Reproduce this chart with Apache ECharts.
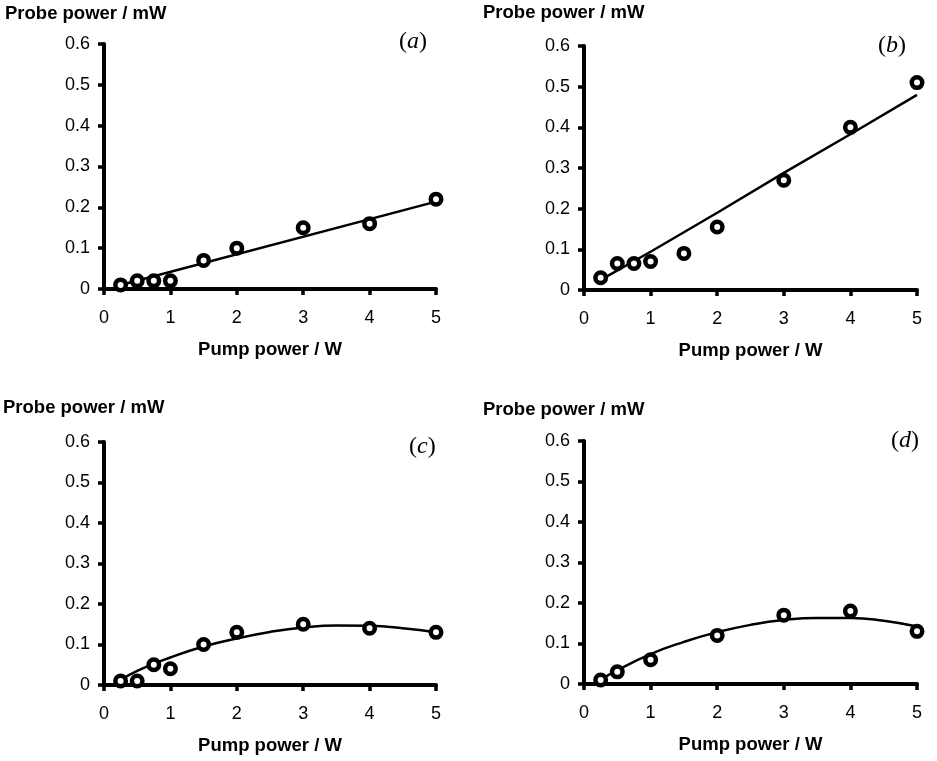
<!DOCTYPE html>
<html>
<head>
<meta charset="utf-8">
<script src="https://cdn.jsdelivr.net/npm/echarts@6/dist/echarts.min.js"></script>
<style>
  html, body { margin: 0; padding: 0; background: #fff; }
  #chart { width: 937px; height: 761px; }
</style>
</head>
<body>
<div id="chart"></div>
<script>
// measured pump powers (W) and probe powers (mW)
const pumpA = [0.25, 0.5, 0.75, 1, 1.5, 2, 3, 4, 5];
const probeA = [0.01, 0.02, 0.02, 0.02, 0.07, 0.10, 0.15, 0.16, 0.22];
const fitXA = [0.25, 5];
const fitYA = [0.01, 0.214];

const pumpB = [0.25, 0.5, 0.75, 1, 1.5, 2, 3, 4, 5];
const probeB = [0.03, 0.065, 0.065, 0.07, 0.09, 0.155, 0.27, 0.40, 0.51];
const fitXB = [0.25, 1, 2, 3, 4, 5];
const fitYB = [0.025, 0.094, 0.19, 0.288, 0.383, 0.48];

const pumpC = [0.25, 0.5, 0.75, 1, 1.5, 2, 3, 4, 5];
const probeC = [0.01, 0.01, 0.05, 0.04, 0.10, 0.13, 0.15, 0.14, 0.13];
const fitXC = [0.25, 0.5, 1, 1.5, 2, 2.5, 3, 3.5, 4, 4.5, 5];
const fitYC = [0.012, 0.035, 0.068, 0.095, 0.115, 0.131, 0.142, 0.147, 0.146, 0.14, 0.13];

const pumpD = [0.25, 0.5, 1, 2, 3, 4, 5];
const probeD = [0.01, 0.03, 0.06, 0.12, 0.17, 0.18, 0.13];
const fitXD = [0.25, 0.5, 1, 1.5, 2, 2.5, 3, 3.5, 4, 4.5, 5];
const fitYD = [0.01, 0.034, 0.074, 0.104, 0.128, 0.146, 0.158, 0.163, 0.163, 0.156, 0.142];

const xTicks = [0, 1, 2, 3, 4, 5];
const yTicks = [0, 0.1, 0.2, 0.3, 0.4, 0.5, 0.6];
const panelLetters = ['a', 'b', 'c', 'd'];

const panels = [
  { px: pumpA, py: probeA, fx: fitXA, fy: fitYA },
  { px: pumpB, py: probeB, fx: fitXB, fy: fitYB },
  { px: pumpC, py: probeC, fx: fitXC, fy: fitYC },
  { px: pumpD, py: probeD, fx: fitXD, fy: fitYD }
];

// grid boxes in pixels
const grids = [
  { left: 104, top: 44, width: 332, height: 245 },
  { left: 584, top: 46, width: 333, height: 244 },
  { left: 104, top: 442, width: 332, height: 243 },
  { left: 584, top: 441, width: 333, height: 243 }
];

const sans = 'Liberation Sans, Arial, sans-serif';
const serif = 'Liberation Serif, Times New Roman, serif';

function zip(xs, ys) {
  return xs.map((x, i) => [x, ys[i]]);
}

const xAxes = grids.map((g, i) => ({
  type: 'value',
  gridIndex: i,
  min: xTicks[0],
  max: xTicks[xTicks.length - 1],
  interval: 1,
  splitLine: { show: false },
  axisLine: { show: true, onZero: false, lineStyle: { color: '#000', width: 4 } },
  axisTick: { show: true, length: 6, lineStyle: { color: '#000', width: 3.5 } },
  axisLabel: { color: '#000', fontFamily: sans, fontSize: 18, margin: 20 },
  name: 'Pump power / W',
  nameLocation: 'middle',
  nameGap: 51,
  nameTextStyle: { color: '#000', fontFamily: sans, fontSize: 18.5, fontWeight: 'bold' }
}));

const yAxes = grids.map((g, i) => ({
  type: 'value',
  gridIndex: i,
  min: yTicks[0],
  max: yTicks[yTicks.length - 1],
  interval: 0.1,
  splitLine: { show: false },
  axisLine: { show: true, onZero: false, lineStyle: { color: '#000', width: 4 } },
  axisTick: { show: true, length: 6, lineStyle: { color: '#000', width: 3.5 } },
  axisLabel: { color: '#000', fontFamily: sans, fontSize: 18, margin: 14 }
}));

const series = [];
panels.forEach((p, i) => {
  series.push({
    type: 'line',
    xAxisIndex: i,
    yAxisIndex: i,
    data: zip(p.fx, p.fy),
    smooth: i >= 2,
    showSymbol: false,
    lineStyle: { color: '#000', width: 2.5 },
    z: 2,
    silent: true
  });
  series.push({
    type: 'scatter',
    xAxisIndex: i,
    yAxisIndex: i,
    data: zip(p.px, p.py),
    symbol: 'circle',
    symbolSize: 10.5,
    itemStyle: { color: '#fff', borderColor: '#000', borderWidth: 4.5, opacity: 1 },
    z: 3
  });
});

// y-axis titles and panel letters
const yTitlePos = [[5, 4], [483, 3], [3, 398], [483, 400]];
const letterPos = [[399, 30], [878, 34], [409, 435], [891, 429]];

const titles = [];
yTitlePos.forEach(pos => {
  titles.push({
    text: 'Probe power / mW',
    left: pos[0],
    top: pos[1],
    padding: 0,
    textStyle: { color: '#000', fontFamily: sans, fontSize: 18.5, fontWeight: 'bold' }
  });
});
panelLetters.forEach((l, i) => {
  titles.push({
    text: '{p|(}{i|' + l + '}{p|)}',
    left: letterPos[i][0],
    top: letterPos[i][1],
    padding: 0,
    textStyle: {
      fontWeight: 'normal',
      rich: {
        p: { fontFamily: serif, fontSize: 24, fontWeight: 'normal', color: '#000' },
        i: { fontFamily: serif, fontSize: 24, fontStyle: 'italic', fontWeight: 'normal', color: '#000' }
      }
    }
  });
});

const chart = echarts.init(document.getElementById('chart'), null, { renderer: 'canvas' });
chart.setOption({
  animation: false,
  backgroundColor: '#fff',
  title: titles,
  grid: grids,
  xAxis: xAxes,
  yAxis: yAxes,
  series: series
});
</script>
</body>
</html>
